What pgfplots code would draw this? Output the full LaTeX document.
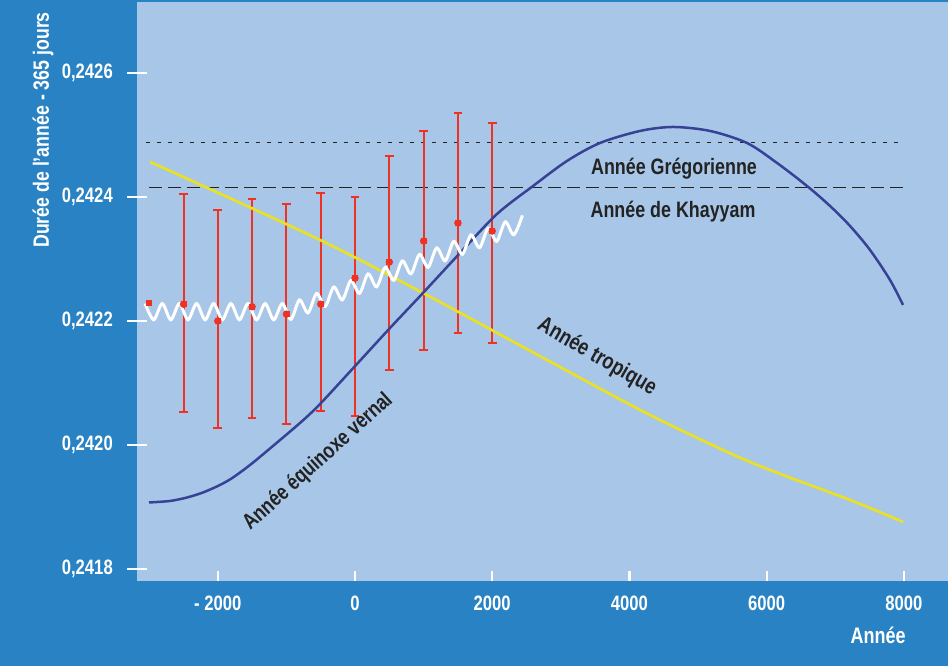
\documentclass[border=0pt]{standalone}
\usepackage{fontspec}
\setmainfont{Liberation Sans}[FakeStretch=0.8]
\usepackage{pgfplots}
\pgfplotsset{compat=1.18}
\usepackage{pgfplotstable}
\definecolor{band}{RGB}{40,130,195}
\definecolor{plotbg}{RGB}{168,199,232}
\definecolor{curveblue}{RGB}{55,65,150}
\definecolor{tropyellow}{RGB}{235,225,35}
\definecolor{errred}{RGB}{240,50,35}
\definecolor{txtdark}{RGB}{35,35,35}

% Annee equinoxe vernal
\pgfplotstableread{
yr v
-3003 0.2419073
-2697 0.2419097
-2449 0.2419153
-2216 0.2419234
-1968 0.2419355
-1778 0.2419476
-1531 0.2419677
-1283 0.2419903
-802 0.2420355
-510 0.2420661
29 0.2421307
510 0.2421887
991 0.2422452
1531 0.2423097
2070 0.2423726
2595 0.2424177
3090 0.2424581
3571 0.2424871
4155 0.2425065
4636 0.2425129
5175 0.2425065
5714 0.2424871
6152 0.2424548
6589 0.2424177
6924 0.2423855
7216 0.2423532
7507 0.2423145
7799 0.2422661
7988 0.2422258
}\vernal

% Annee tropique
\pgfplotstableread{
yr v
-2988 0.2424565
-2405 0.2424274
-510 0.2423306
991 0.2422452
2799 0.2421371
4300 0.2420484
5758 0.2419726
7216 0.2419113
7988 0.2418758
}\tropique

% error bars
\pgfplotstableread{
yr v ep em
-2500 0.242227 0.000178 0.000174
-2000 0.242200 0.000179 0.000173
-1500 0.242223 0.000174 0.000179
-1000 0.242211 0.000178 0.000177
-500 0.242227 0.000179 0.000172
0 0.242269 0.000131 0.000222
500 0.242295 0.000171 0.000174
1000 0.242329 0.000177 0.000176
1500 0.242358 0.000177 0.000177
2000 0.242345 0.000174 0.000180
}\errtab

\pgfplotstableread{
yr v
-3000 0.242229
-2500 0.242227
-2000 0.242200
-1500 0.242223
-1000 0.242211
-500 0.242227
0 0.242269
500 0.242295
1000 0.242329
1500 0.242358
2000 0.242345
}\marktab

% wavy white line (peaks and troughs)
\pgfplotstableread{
yr v
-3060 0.2422280
-2935 0.2422020
-2810 0.2422280
-2685 0.2422020
-2560 0.2422280
-2435 0.2422020
-2310 0.2422280
-2185 0.2422020
-2060 0.2422280
-1935 0.2422020
-1810 0.2422280
-1685 0.2422020
-1560 0.2422280
-1435 0.2422020
-1310 0.2422280
-1185 0.2422020
-1060 0.2422280
-935 0.2422026
-810 0.2422339
-685 0.2422131
-560 0.2422443
-435 0.2422236
-310 0.2422548
-185 0.2422341
-60 0.2422653
65 0.2422446
190 0.2422758
315 0.2422551
440 0.2422863
565 0.2422656
690 0.2422968
815 0.2422761
940 0.2423073
1065 0.2422866
1190 0.2423178
1315 0.2422971
1440 0.2423283
1565 0.2423076
1690 0.2423388
1815 0.2423181
1940 0.2423493
2065 0.2423286
2190 0.2423598
2315 0.2423391
2440 0.2423703
}\wavetab

\begin{document}
\begin{tikzpicture}
\path[use as bounding box] (-82.2pt,-51pt) rectangle (486.6pt,348.6pt);
\fill[band] (-82.2pt,-51pt) rectangle (486.6pt,348.6pt);
\begin{axis}[
  scale only axis, width=486.6pt, height=347.4pt,
  xmin=-3178, xmax=8644, ymin=0.2417806, ymax=0.2427145,
  axis background/.style={fill=plotbg},
  axis line style={draw=none},
  xtick={-2000,0,2000,4000,6000,8000},
  xticklabels={- 2000,0,2000,4000,6000,8000},
  ytick={0.2418,0.2420,0.2422,0.2424,0.2426},
  yticklabels={{0,2418},{0,2420},{0,2422},{0,2424},{0,2426}},
  scaled ticks=false,
  tick pos=left,
  tick align=inside,
  major tick length=6pt,
  xtick style={draw=white, line width=1.3pt},
  ytick style={draw=white, line width=1.2pt, /pgfplots/major tick length=12pt, xshift=-6pt},
  ticklabel style={font=\fontsize{12.5}{15}\selectfont\bfseries, text=white},
  yticklabel style={xshift=-11pt},
  xticklabel style={yshift=-5.7pt},
]
\addplot[txtdark, line width=0.7pt, dash pattern=on 2.8pt off 3.8pt] coordinates {(-3050,0.242488) (7990,0.242488)};
\addplot[txtdark, line width=0.8pt, dash pattern=on 7.8pt off 3.6pt] coordinates {(-3000,0.242415) (7990,0.242415)};
\addplot[only marks, mark=none, errred,
  error bars/.cd, y dir=both, y explicit,
  error bar style={line width=1.2pt, errred},
  error mark options={rotate=90, mark size=2.6pt, line width=1.1pt, errred}]
  table[x=yr, y=v, y error plus=ep, y error minus=em] {\errtab};
\addplot[tropyellow, line width=1.6pt, smooth] table[x=yr, y=v] {\tropique};
\addplot[curveblue, line width=1.5pt, smooth] table[x=yr, y=v] {\vernal};
\addplot[white, line width=1.8pt, smooth] table[x=yr, y=v] {\wavetab};
\addplot[only marks, mark=square*, mark size=1.5pt, errred] table[x=yr, y=v] {\marktab};

\node[font=\fontsize{13.4}{16}\selectfont\bfseries, text=txtdark] at (axis cs:4650,0.2424450) {Année Grégorienne};
\node[font=\fontsize{13.4}{16}\selectfont\bfseries, text=txtdark] at (axis cs:4636,0.2423760) {Année de Khayyam};
\node[font=\fontsize{13.6}{16}\selectfont\bfseries, text=txtdark, rotate=-30] at (axis cs:3528,0.2421419) {Année tropique};
\node[font=\fontsize{13.2}{16}\selectfont\bfseries, text=txtdark, rotate=42] at (axis cs:-539,0.2419726) {Année équinoxe vernal};
\end{axis}
\node[rotate=90, font=\fontsize{13.3}{16}\selectfont\bfseries, text=white] at (-56.4pt,270.6pt) {Durée de l'année - 365 jours};
\node[font=\fontsize{13.5}{16}\selectfont\bfseries, text=white] at (444.6pt,-32.4pt) {Année};
\end{tikzpicture}
\end{document}
